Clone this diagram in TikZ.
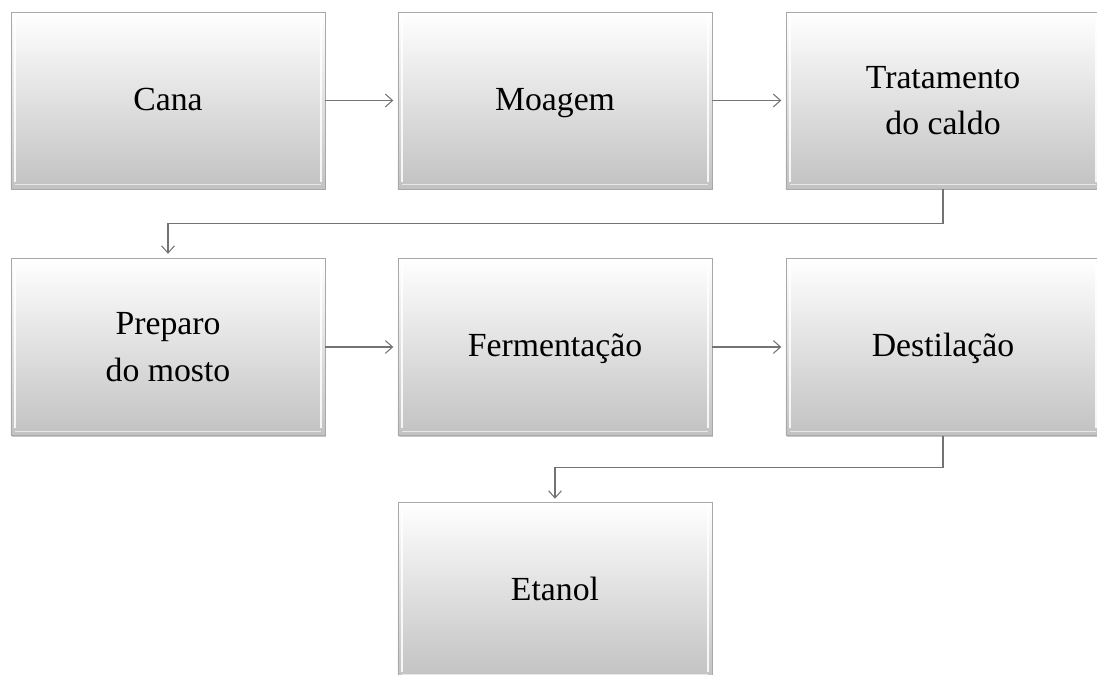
\documentclass[tikz,border=0pt]{standalone}
\usepackage{fontspec}
\setmainfont{Liberation Serif}
\usetikzlibrary{arrows.meta,shadows}

\tikzset{
  etapa/.style={rectangle, minimum width=7.85cm, minimum height=4.425cm, inner sep=0pt,
    align=center, font=\fontsize{24}{33}\selectfont,
    top color=white, middle color=white!96!black, bottom color=black!24,
    draw=black!34, line width=0.6pt,
    drop shadow={shadow xshift=0.7pt, shadow yshift=-1pt, opacity=0.45},
    path picture={
      \draw[white, line width=1.2pt, opacity=0.85]
        ([xshift=3pt, yshift=-2pt]path picture bounding box.north west) --
        ([xshift=3pt, yshift=5pt]path picture bounding box.south west)
        ([xshift=-3pt, yshift=-2pt]path picture bounding box.north east) --
        ([xshift=-3pt, yshift=5pt]path picture bounding box.south east);
      \draw[white, line width=0.8pt, opacity=0.6]
        ([xshift=3pt, yshift=3pt]path picture bounding box.south west) --
        ([xshift=-3pt, yshift=3pt]path picture bounding box.south east);
    }},
  umalinha/.style={text height=14pt, text depth=0pt},
  fluxo/.style={draw=black!55, line width=0.75pt,
    -{Straight Barb[length=1.8mm, width=3.2mm]}}
}

\begin{document}
\begin{tikzpicture}[x=0.025cm, y=-0.025cm]
\useasboundingbox (0,0) rectangle (1097,675);

% primeira linha
\node[etapa, umalinha] (cana) at (168,100.5) {Cana};
\node[etapa, umalinha] (moagem) at (555,100.5) {Moagem};
\node[etapa] (tratamento) at (943,100.5) {Tratamento\\do caldo};

% segunda linha
\node[etapa] (preparo) at (168,347) {Preparo\\do mosto};
\node[etapa, umalinha] (fermentacao) at (555,347) {Fermentação};
\node[etapa, umalinha] (destilacao) at (943,347) {Destilação};

% produto final
\node[etapa, umalinha] (etanol) at (555,590.5) {Etanol};

\draw[fluxo, shorten >=3pt] (cana) -- (moagem);
\draw[fluxo, shorten >=3pt] (moagem) -- (tratamento);
\draw[fluxo, shorten >=3pt] (preparo) -- (fermentacao);
\draw[fluxo, shorten >=3pt] (fermentacao) -- (destilacao);

\draw[fluxo, shorten >=3pt] (tratamento.south) -- ++(0,34) -| (preparo.north);
\draw[fluxo, shorten >=2pt] (destilacao.south) -- ++(0,32) -| (etanol.north);

\end{tikzpicture}
\end{document}
